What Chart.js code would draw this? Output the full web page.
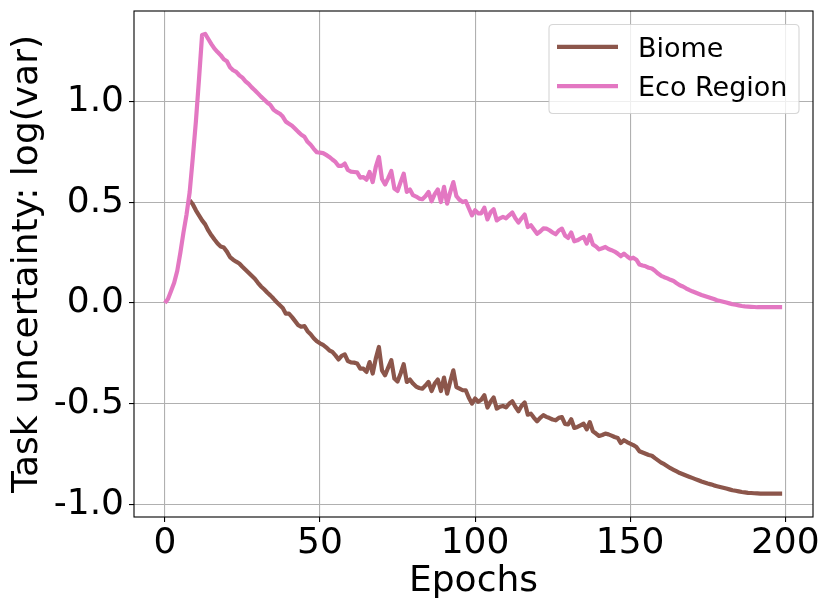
<!DOCTYPE html>
<html><head><meta charset="utf-8">
<script src="https://cdn.jsdelivr.net/npm/chart.js@4.4.1/dist/chart.umd.min.js"></script>
<style>html,body{margin:0;padding:0;background:#fff;}canvas{display:block;}</style>
</head><body>
<canvas id="c" width="831" height="615"></canvas>
<script>
const epochs = [
  0,1,2,3,4,5,6,7,8,9,10,11,12,13,14,15,16,17,18,19,
  20,21,22,23,24,25,26,27,28,29,30,31,32,33,34,35,36,37,38,39,
  40,41,42,43,44,45,46,47,48,49,50,51,52,53,54,55,56,57,58,59,
  60,61,62,63,64,65,66,67,68,69,70,71,72,73,74,75,76,77,78,79,
  80,81,82,83,84,85,86,87,88,89,90,91,92,93,94,95,96,97,98,99,
  100,101,102,103,104,105,106,107,108,109,110,111,112,113,114,115,116,117,118,119,
  120,121,122,123,124,125,126,127,128,129,130,131,132,133,134,135,136,137,138,139,
  140,141,142,143,144,145,146,147,148,149,150,151,152,153,154,155,156,157,158,159,
  160,161,162,163,164,165,166,167,168,169,170,171,172,173,174,175,176,177,178,179,
  180,181,182,183,184,185,186,187,188,189,190,191,192,193,194,195,196,197,198,199
];
const biome = [
  null,null,null,null,null,null,null,null,0.51,0.49,
  0.46,0.435,0.41,0.39,0.36,0.336,0.315,0.295,0.28,0.275,
  0.255,0.228,0.215,0.205,0.196,0.18,0.165,0.15,0.135,0.12,
  0.10,0.082,0.068,0.052,0.038,0.022,0.005,-0.010,-0.025,-0.053,
  -0.053,-0.07,-0.09,-0.11,-0.118,-0.115,-0.14,-0.155,-0.175,-0.19,
  -0.20,-0.208,-0.22,-0.235,-0.243,-0.26,-0.28,-0.262,-0.255,-0.288,
  -0.295,-0.296,-0.30,-0.326,-0.326,-0.342,-0.293,-0.350,-0.276,-0.218,
  -0.334,-0.359,-0.32,-0.284,-0.375,-0.39,-0.35,-0.304,-0.392,-0.380,
  -0.40,-0.415,-0.422,-0.425,-0.41,-0.392,-0.437,-0.40,-0.38,-0.437,
  -0.370,-0.450,-0.39,-0.334,-0.417,-0.425,-0.433,-0.433,-0.47,-0.499,
  -0.474,-0.49,-0.48,-0.458,-0.519,-0.49,-0.469,-0.524,-0.515,-0.511,
  -0.518,-0.50,-0.488,-0.515,-0.537,-0.51,-0.494,-0.554,-0.549,-0.57,
  -0.587,-0.57,-0.557,-0.565,-0.571,-0.578,-0.582,-0.57,-0.566,-0.60,
  -0.603,-0.577,-0.620,-0.615,-0.607,-0.599,-0.627,-0.591,-0.637,-0.648,
  -0.660,-0.655,-0.648,-0.652,-0.658,-0.665,-0.670,-0.695,-0.681,-0.69,
  -0.698,-0.705,-0.715,-0.736,-0.742,-0.748,-0.754,-0.758,-0.77,-0.781,
  -0.792,-0.80,-0.81,-0.82,-0.828,-0.836,-0.844,-0.850,-0.856,-0.862,
  -0.868,-0.874,-0.880,-0.886,-0.891,-0.896,-0.900,-0.905,-0.909,-0.913,
  -0.917,-0.921,-0.925,-0.929,-0.932,-0.935,-0.938,-0.940,-0.942,-0.943,
  -0.944,-0.945,-0.946,-0.946,-0.946,-0.946,-0.946,-0.946,-0.946,-0.946
];
const ecoRegion = [
  0.00,0.02,0.06,0.10,0.16,0.25,0.35,0.44,0.55,0.72,
  0.90,1.11,1.33,1.335,1.31,1.285,1.262,1.245,1.23,1.21,
  1.20,1.17,1.155,1.147,1.13,1.118,1.10,1.087,1.07,1.056,
  1.04,1.024,1.01,0.995,0.983,0.96,0.948,0.94,0.925,0.90,
  0.89,0.88,0.865,0.849,0.835,0.825,0.80,0.785,0.765,0.748,
  0.746,0.744,0.735,0.725,0.712,0.70,0.68,0.68,0.692,0.66,
  0.652,0.650,0.648,0.622,0.625,0.612,0.650,0.600,0.675,0.725,
  0.615,0.588,0.62,0.655,0.568,0.556,0.60,0.642,0.551,0.563,
  0.535,0.528,0.518,0.515,0.530,0.551,0.505,0.54,0.563,0.501,
  0.576,0.493,0.55,0.600,0.53,0.512,0.501,0.506,0.47,0.435,
  0.460,0.445,0.445,0.473,0.415,0.45,0.465,0.410,0.42,0.427,
  0.42,0.435,0.449,0.42,0.399,0.42,0.439,0.377,0.386,0.365,
  0.344,0.355,0.37,0.369,0.361,0.35,0.341,0.36,0.369,0.335,
  0.323,0.35,0.306,0.311,0.32,0.328,0.295,0.336,0.290,0.28,
  0.266,0.272,0.278,0.268,0.262,0.255,0.245,0.232,0.245,0.232,
  0.220,0.225,0.215,0.191,0.186,0.182,0.175,0.171,0.16,0.146,
  0.135,0.128,0.122,0.115,0.109,0.098,0.088,0.082,0.073,0.065,
  0.058,0.052,0.046,0.040,0.035,0.030,0.025,0.020,0.014,0.010,
  0.006,0.002,-0.002,-0.006,-0.009,-0.012,-0.015,-0.017,-0.018,-0.019,
  -0.020,-0.021,-0.021,-0.021,-0.021,-0.021,-0.021,-0.021,-0.021,-0.021
];
const xTicks = [0, 50, 100, 150, 200];
const xTickLabels = ['0', '50', '100', '150', '200'];
const yTicks = [-1.0, -0.5, 0.0, 0.5, 1.0];
const yTickLabels = ['-1.0', '-0.5', '0.0', '0.5', '1.0'];
const seriesNames = ['Biome', 'Eco Region'];
const seriesColors = ['#8c564b', '#e377c2'];
const xTitle = 'Epochs';
const yTitle = 'Task uncertainty: log(var)';

const FONT = 'DejaVu Sans';
Chart.defaults.font.family = FONT;
Chart.defaults.color = '#000';

const bgPlugin = {
  id: 'bg',
  beforeDraw(chart) {
    const c = chart.ctx;
    c.save(); c.fillStyle = '#fff'; c.fillRect(0, 0, chart.width, chart.height); c.restore();
  }
};
const framePlugin = {
  id: 'frame',
  afterDatasetsDraw(chart) {
    const c = chart.ctx, a = chart.chartArea;
    c.save();
    c.strokeStyle = '#000'; c.lineWidth = 1.1;
    c.strokeRect(a.left, a.top, a.right - a.left, a.bottom - a.top);
    c.restore();
  }
};
const legendPlugin = {
  id: 'mplLegend',
  afterDraw(chart) {
    const c = chart.ctx, a = chart.chartArea;
    const bw = 250, bh = 89;
    const bx = a.right - 14 - bw, by = a.top + 13.5;
    c.save();
    const r = 4;
    c.beginPath();
    c.moveTo(bx + r, by);
    c.lineTo(bx + bw - r, by); c.quadraticCurveTo(bx + bw, by, bx + bw, by + r);
    c.lineTo(bx + bw, by + bh - r); c.quadraticCurveTo(bx + bw, by + bh, bx + bw - r, by + bh);
    c.lineTo(bx + r, by + bh); c.quadraticCurveTo(bx, by + bh, bx, by + bh - r);
    c.lineTo(bx, by + r); c.quadraticCurveTo(bx, by, bx + r, by);
    c.closePath();
    c.fillStyle = 'rgba(255,255,255,0.8)'; c.fill();
    c.strokeStyle = 'rgba(204,204,204,0.8)'; c.lineWidth = 1.1; c.stroke();
    const rows = [by + 22.4, by + 61.7];
    c.font = '27px "' + FONT + '"';
    c.textBaseline = 'alphabetic';
    c.textAlign = 'left';
    seriesNames.forEach((name, i) => {
      const y = rows[i];
      c.beginPath();
      c.moveTo(bx + 8, y); c.lineTo(bx + 69, y);
      c.strokeStyle = seriesColors[i]; c.lineWidth = 4.2; c.lineCap = 'butt';
      c.stroke();
      c.fillStyle = '#000';
      c.fillText(name, bx + 89, y + 10.2);
    });
    c.restore();
  }
};

const ds = (name, data, color, order) => ({
  label: name, data, borderColor: color, backgroundColor: color,
  borderWidth: 4.2, pointRadius: 0, pointHoverRadius: 0, tension: 0,
  borderJoinStyle: 'round', borderCapStyle: 'butt', fill: false, spanGaps: false, order
});

new Chart(document.getElementById('c'), {
  type: 'line',
  data: {
    labels: epochs,
    datasets: [
      ds(seriesNames[0], biome, seriesColors[0], 1),
      ds(seriesNames[1], ecoRegion, seriesColors[1], 0)
    ]
  },
  plugins: [bgPlugin, framePlugin, legendPlugin],
  options: {
    responsive: false,
    animation: false,
    events: [],
    layout: { padding: { left: 0, top: 11, right: 18, bottom: 0 } },
    plugins: { legend: { display: false }, tooltip: { enabled: false }, title: { display: false } },
    scales: {
      x: {
        type: 'linear', min: -9.95, max: 208.95,
        afterBuildTicks: s => { s.ticks = xTicks.map(v => ({ value: v })); },
        afterFit: s => { s.height = 98; s.paddingLeft = 0; s.paddingRight = 0; },
        ticks: { autoSkip: false, maxRotation: 0, padding: 0, font: { size: 36 },
                 callback: (v, i) => xTickLabels[i] },
        grid: { color: '#b0b0b0', lineWidth: 1.1, drawTicks: true, tickLength: 5, tickColor: '#000', tickWidth: 1.1 },
        border: { display: false },
        title: { display: true, text: xTitle, font: { size: 36 }, padding: { top: 0, bottom: 12 } }
      },
      y: {
        type: 'linear', min: -1.062, max: 1.449,
        afterBuildTicks: s => { s.ticks = yTicks.map(v => ({ value: v })); },
        afterFit: s => { s.width = 134; s.paddingTop = 0; s.paddingBottom = 0; },
        ticks: { autoSkip: false, padding: 5, font: { size: 36 },
                 callback: (v, i) => yTickLabels[i] },
        grid: { color: '#b0b0b0', lineWidth: 1.1, drawTicks: true, tickLength: 5, tickColor: '#000', tickWidth: 1.1 },
        border: { display: false },
        title: { display: true, text: yTitle, font: { size: 36 }, padding: { top: 6, bottom: 0 } }
      }
    }
  }
});
</script>
</body></html>
